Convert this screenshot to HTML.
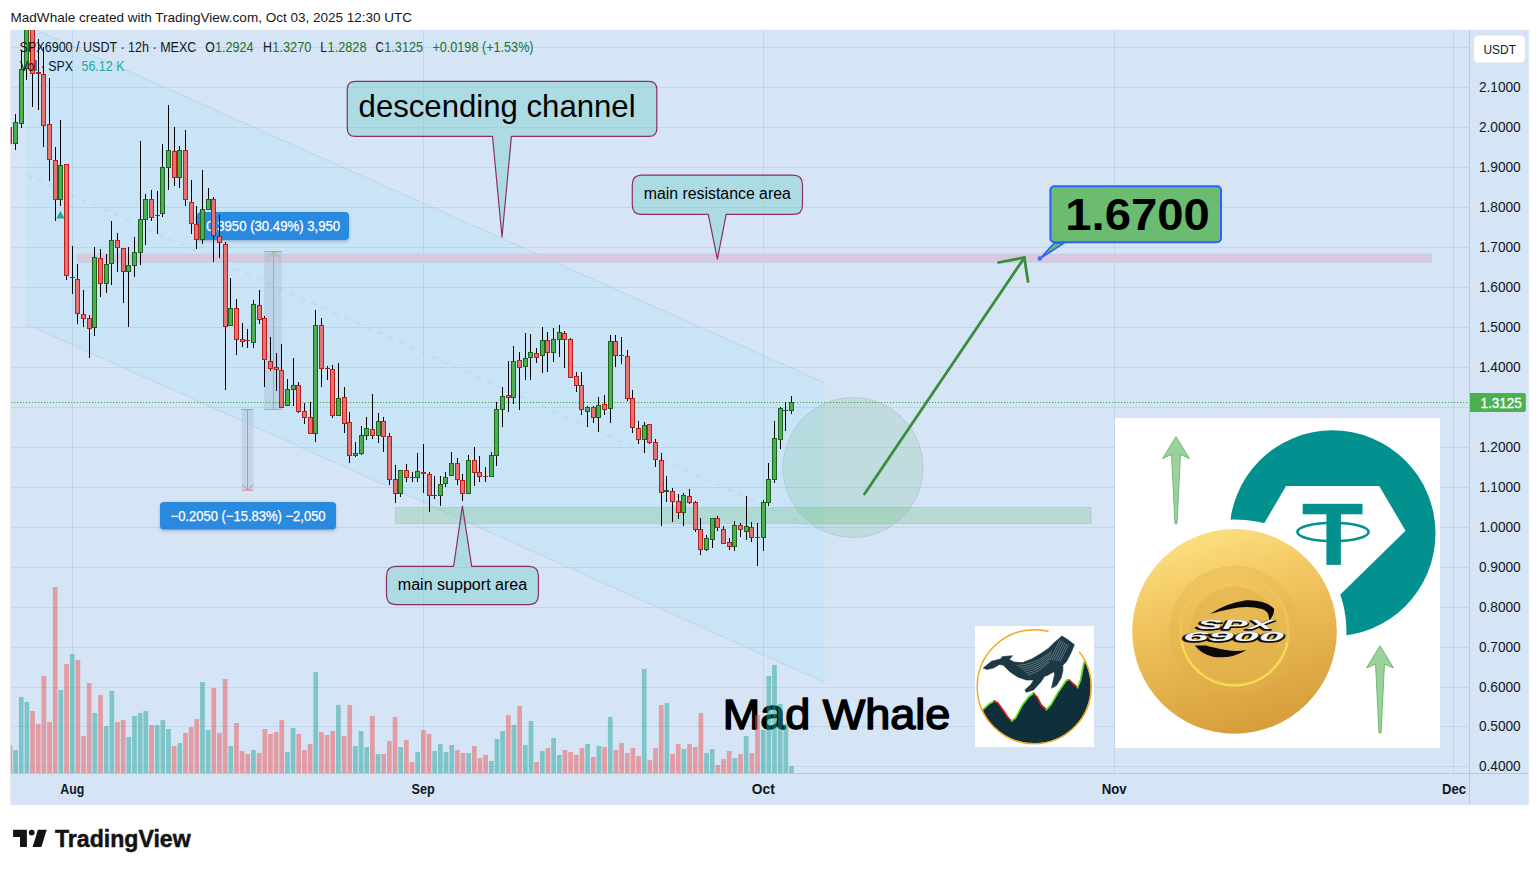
<!DOCTYPE html>
<html><head><meta charset="utf-8"><title>chart</title><style>html,body{margin:0;padding:0;background:#fff;overflow:hidden}svg{display:block}</style></head><body>
<svg width="1540" height="873" viewBox="0 0 1540 873" font-family="Liberation Sans, sans-serif">
<defs>
<clipPath id="cp"><rect x="10.7" y="30" width="1458.8" height="743.3"/></clipPath>
<clipPath id="cpall"><rect x="10.7" y="30" width="1517.8999999999999" height="774.7"/></clipPath>
<linearGradient id="gold" x1="0.3" y1="0" x2="0.6" y2="1"><stop offset="0" stop-color="#fde184"/><stop offset="0.3" stop-color="#f3c963"/><stop offset="0.65" stop-color="#e5b24c"/><stop offset="1" stop-color="#d59d3b"/></linearGradient>
<radialGradient id="gold2" cx="0.5" cy="0.35" r="0.75"><stop offset="0" stop-color="#f3cb62"/><stop offset="1" stop-color="#dca844"/></radialGradient>
<clipPath id="whaleclip"><circle cx="1034.2" cy="686.8" r="56.5"/></clipPath>
<clipPath id="imgclip"><rect x="1115" y="418" width="325" height="330"/></clipPath>
<filter id="sh" x="-10%" y="-20%" width="120%" height="150%"><feDropShadow dx="0" dy="1.5" stdDeviation="1.5" flood-color="#1a3a6a" flood-opacity="0.3"/></filter>
<filter id="blur1"><feGaussianBlur stdDeviation="0.6"/></filter>
</defs>
<rect width="1540" height="873" fill="#fff"/>
<text x="10.6" y="21.7" font-size="13.2" fill="#131722" textLength="401.5" lengthAdjust="spacingAndGlyphs">MadWhale created with TradingView.com, Oct 03, 2025 12:30 UTC</text>
<rect x="10.2" y="29.5" width="1519.1" height="775.9000000000001" fill="#eef1f5"/>
<rect x="10.7" y="30" width="1517.8999999999999" height="774.7" fill="#d5e5f6"/>
<g clip-path="url(#cp)">
<polygon points="26.4,25.5 824.7,382.8 824.7,682.4 26.4,324.2" fill="#c9e4f7" />
<line x1="26.4" y1="25.5" x2="824.7" y2="382.8" stroke="#b4c6dc" stroke-opacity="0.55" stroke-width="1"/>
<line x1="26.4" y1="324.2" x2="824.7" y2="682.4" stroke="#b4c6dc" stroke-opacity="0.55" stroke-width="1"/>
<line x1="26.4" y1="174.9" x2="824.7" y2="532.6" stroke="#b4c6dc" stroke-opacity="0.6" stroke-width="1" stroke-dasharray="6 6"/>
<rect x="10.7" y="766" width="1458.8" height="1" fill="rgb(110,135,170)" fill-opacity="0.155"/>
<rect x="10.7" y="726" width="1458.8" height="1" fill="rgb(110,135,170)" fill-opacity="0.155"/>
<rect x="10.7" y="687" width="1458.8" height="1" fill="rgb(110,135,170)" fill-opacity="0.155"/>
<rect x="10.7" y="647" width="1458.8" height="1" fill="rgb(110,135,170)" fill-opacity="0.155"/>
<rect x="10.7" y="607" width="1458.8" height="1" fill="rgb(110,135,170)" fill-opacity="0.155"/>
<rect x="10.7" y="567" width="1458.8" height="1" fill="rgb(110,135,170)" fill-opacity="0.155"/>
<rect x="10.7" y="527" width="1458.8" height="1" fill="rgb(110,135,170)" fill-opacity="0.155"/>
<rect x="10.7" y="487" width="1458.8" height="1" fill="rgb(110,135,170)" fill-opacity="0.155"/>
<rect x="10.7" y="447" width="1458.8" height="1" fill="rgb(110,135,170)" fill-opacity="0.155"/>
<rect x="10.7" y="407" width="1458.8" height="1" fill="rgb(110,135,170)" fill-opacity="0.155"/>
<rect x="10.7" y="367" width="1458.8" height="1" fill="rgb(110,135,170)" fill-opacity="0.155"/>
<rect x="10.7" y="327" width="1458.8" height="1" fill="rgb(110,135,170)" fill-opacity="0.155"/>
<rect x="10.7" y="287" width="1458.8" height="1" fill="rgb(110,135,170)" fill-opacity="0.155"/>
<rect x="10.7" y="247" width="1458.8" height="1" fill="rgb(110,135,170)" fill-opacity="0.155"/>
<rect x="10.7" y="207" width="1458.8" height="1" fill="rgb(110,135,170)" fill-opacity="0.155"/>
<rect x="10.7" y="167" width="1458.8" height="1" fill="rgb(110,135,170)" fill-opacity="0.155"/>
<rect x="10.7" y="127" width="1458.8" height="1" fill="rgb(110,135,170)" fill-opacity="0.155"/>
<rect x="10.7" y="87" width="1458.8" height="1" fill="rgb(110,135,170)" fill-opacity="0.155"/>
<rect x="10.7" y="47" width="1458.8" height="1" fill="rgb(110,135,170)" fill-opacity="0.155"/>
<rect x="72" y="30" width="1" height="743.3" fill="rgb(110,135,170)" fill-opacity="0.155"/>
<rect x="423" y="30" width="1" height="743.3" fill="rgb(110,135,170)" fill-opacity="0.155"/>
<rect x="763" y="30" width="1" height="743.3" fill="rgb(110,135,170)" fill-opacity="0.155"/>
<rect x="1114" y="30" width="1" height="743.3" fill="rgb(110,135,170)" fill-opacity="0.155"/>
<rect x="1453" y="30" width="1" height="743.3" fill="rgb(110,135,170)" fill-opacity="0.155"/>
<text x="722.8" y="729" font-size="42.3" fill="#000" stroke="#000" stroke-width="1.5" stroke-linejoin="round" textLength="227.6" lengthAdjust="spacingAndGlyphs">Mad Whale</text>
<rect x="7.55" y="745" width="4.7" height="28.3" fill="rgb(239,83,80)" fill-opacity="0.5"/>
<rect x="13.21" y="750" width="4.7" height="23.3" fill="rgb(38,166,154)" fill-opacity="0.5"/>
<rect x="18.88" y="697" width="4.7" height="76.3" fill="rgb(38,166,154)" fill-opacity="0.5"/>
<rect x="24.54" y="702" width="4.7" height="71.3" fill="rgb(38,166,154)" fill-opacity="0.5"/>
<rect x="30.20" y="711" width="4.7" height="62.3" fill="rgb(239,83,80)" fill-opacity="0.5"/>
<rect x="35.87" y="724" width="4.7" height="49.3" fill="rgb(239,83,80)" fill-opacity="0.5"/>
<rect x="41.53" y="676" width="4.7" height="97.3" fill="rgb(239,83,80)" fill-opacity="0.5"/>
<rect x="47.20" y="722" width="4.7" height="51.3" fill="rgb(239,83,80)" fill-opacity="0.5"/>
<rect x="52.86" y="587" width="4.7" height="186.3" fill="rgb(239,83,80)" fill-opacity="0.5"/>
<rect x="58.52" y="690" width="4.7" height="83.3" fill="rgb(38,166,154)" fill-opacity="0.5"/>
<rect x="64.19" y="664" width="4.7" height="109.3" fill="rgb(239,83,80)" fill-opacity="0.5"/>
<rect x="69.85" y="654" width="4.7" height="119.3" fill="rgb(38,166,154)" fill-opacity="0.5"/>
<rect x="75.51" y="660" width="4.7" height="113.3" fill="rgb(239,83,80)" fill-opacity="0.5"/>
<rect x="81.18" y="736" width="4.7" height="37.3" fill="rgb(239,83,80)" fill-opacity="0.5"/>
<rect x="86.84" y="683" width="4.7" height="90.3" fill="rgb(239,83,80)" fill-opacity="0.5"/>
<rect x="92.50" y="713" width="4.7" height="60.3" fill="rgb(38,166,154)" fill-opacity="0.5"/>
<rect x="98.17" y="695" width="4.7" height="78.3" fill="rgb(239,83,80)" fill-opacity="0.5"/>
<rect x="103.83" y="726" width="4.7" height="47.3" fill="rgb(38,166,154)" fill-opacity="0.5"/>
<rect x="109.50" y="691" width="4.7" height="82.3" fill="rgb(38,166,154)" fill-opacity="0.5"/>
<rect x="115.16" y="722" width="4.7" height="51.3" fill="rgb(239,83,80)" fill-opacity="0.5"/>
<rect x="120.82" y="720" width="4.7" height="53.3" fill="rgb(239,83,80)" fill-opacity="0.5"/>
<rect x="126.49" y="737" width="4.7" height="36.3" fill="rgb(38,166,154)" fill-opacity="0.5"/>
<rect x="132.15" y="716" width="4.7" height="57.3" fill="rgb(38,166,154)" fill-opacity="0.5"/>
<rect x="137.81" y="713" width="4.7" height="60.3" fill="rgb(38,166,154)" fill-opacity="0.5"/>
<rect x="143.48" y="711" width="4.7" height="62.3" fill="rgb(38,166,154)" fill-opacity="0.5"/>
<rect x="149.14" y="725" width="4.7" height="48.3" fill="rgb(239,83,80)" fill-opacity="0.5"/>
<rect x="154.81" y="725" width="4.7" height="48.3" fill="rgb(38,166,154)" fill-opacity="0.5"/>
<rect x="160.47" y="720" width="4.7" height="53.3" fill="rgb(38,166,154)" fill-opacity="0.5"/>
<rect x="166.13" y="729" width="4.7" height="44.3" fill="rgb(38,166,154)" fill-opacity="0.5"/>
<rect x="171.80" y="746" width="4.7" height="27.3" fill="rgb(239,83,80)" fill-opacity="0.5"/>
<rect x="177.46" y="743" width="4.7" height="30.3" fill="rgb(38,166,154)" fill-opacity="0.5"/>
<rect x="183.12" y="733" width="4.7" height="40.3" fill="rgb(239,83,80)" fill-opacity="0.5"/>
<rect x="188.79" y="727" width="4.7" height="46.3" fill="rgb(239,83,80)" fill-opacity="0.5"/>
<rect x="194.45" y="719" width="4.7" height="54.3" fill="rgb(239,83,80)" fill-opacity="0.5"/>
<rect x="200.11" y="682" width="4.7" height="91.3" fill="rgb(38,166,154)" fill-opacity="0.5"/>
<rect x="205.78" y="730" width="4.7" height="43.3" fill="rgb(38,166,154)" fill-opacity="0.5"/>
<rect x="211.44" y="688" width="4.7" height="85.3" fill="rgb(239,83,80)" fill-opacity="0.5"/>
<rect x="217.11" y="733" width="4.7" height="40.3" fill="rgb(239,83,80)" fill-opacity="0.5"/>
<rect x="222.77" y="679" width="4.7" height="94.3" fill="rgb(239,83,80)" fill-opacity="0.5"/>
<rect x="228.43" y="746" width="4.7" height="27.3" fill="rgb(38,166,154)" fill-opacity="0.5"/>
<rect x="234.10" y="723" width="4.7" height="50.3" fill="rgb(239,83,80)" fill-opacity="0.5"/>
<rect x="239.76" y="751" width="4.7" height="22.3" fill="rgb(239,83,80)" fill-opacity="0.5"/>
<rect x="245.42" y="754" width="4.7" height="19.3" fill="rgb(239,83,80)" fill-opacity="0.5"/>
<rect x="251.09" y="750" width="4.7" height="23.3" fill="rgb(38,166,154)" fill-opacity="0.5"/>
<rect x="256.75" y="753" width="4.7" height="20.3" fill="rgb(239,83,80)" fill-opacity="0.5"/>
<rect x="262.41" y="729" width="4.7" height="44.3" fill="rgb(239,83,80)" fill-opacity="0.5"/>
<rect x="268.08" y="734" width="4.7" height="39.3" fill="rgb(239,83,80)" fill-opacity="0.5"/>
<rect x="273.74" y="732" width="4.7" height="41.3" fill="rgb(239,83,80)" fill-opacity="0.5"/>
<rect x="279.41" y="720" width="4.7" height="53.3" fill="rgb(239,83,80)" fill-opacity="0.5"/>
<rect x="285.07" y="752" width="4.7" height="21.3" fill="rgb(38,166,154)" fill-opacity="0.5"/>
<rect x="290.73" y="728" width="4.7" height="45.3" fill="rgb(38,166,154)" fill-opacity="0.5"/>
<rect x="296.40" y="734" width="4.7" height="39.3" fill="rgb(239,83,80)" fill-opacity="0.5"/>
<rect x="302.06" y="750" width="4.7" height="23.3" fill="rgb(239,83,80)" fill-opacity="0.5"/>
<rect x="307.72" y="744" width="4.7" height="29.3" fill="rgb(239,83,80)" fill-opacity="0.5"/>
<rect x="313.39" y="672" width="4.7" height="101.3" fill="rgb(38,166,154)" fill-opacity="0.5"/>
<rect x="319.05" y="732" width="4.7" height="41.3" fill="rgb(239,83,80)" fill-opacity="0.5"/>
<rect x="324.72" y="735" width="4.7" height="38.3" fill="rgb(239,83,80)" fill-opacity="0.5"/>
<rect x="330.38" y="731" width="4.7" height="42.3" fill="rgb(239,83,80)" fill-opacity="0.5"/>
<rect x="336.04" y="705" width="4.7" height="68.3" fill="rgb(38,166,154)" fill-opacity="0.5"/>
<rect x="341.71" y="736" width="4.7" height="37.3" fill="rgb(239,83,80)" fill-opacity="0.5"/>
<rect x="347.37" y="705" width="4.7" height="68.3" fill="rgb(239,83,80)" fill-opacity="0.5"/>
<rect x="353.03" y="746" width="4.7" height="27.3" fill="rgb(38,166,154)" fill-opacity="0.5"/>
<rect x="358.70" y="731" width="4.7" height="42.3" fill="rgb(38,166,154)" fill-opacity="0.5"/>
<rect x="364.36" y="747" width="4.7" height="26.3" fill="rgb(38,166,154)" fill-opacity="0.5"/>
<rect x="370.02" y="716" width="4.7" height="57.3" fill="rgb(239,83,80)" fill-opacity="0.5"/>
<rect x="375.69" y="754" width="4.7" height="19.3" fill="rgb(38,166,154)" fill-opacity="0.5"/>
<rect x="381.35" y="754" width="4.7" height="19.3" fill="rgb(239,83,80)" fill-opacity="0.5"/>
<rect x="387.02" y="741" width="4.7" height="32.3" fill="rgb(239,83,80)" fill-opacity="0.5"/>
<rect x="392.68" y="717" width="4.7" height="56.3" fill="rgb(239,83,80)" fill-opacity="0.5"/>
<rect x="398.34" y="747" width="4.7" height="26.3" fill="rgb(38,166,154)" fill-opacity="0.5"/>
<rect x="404.01" y="740" width="4.7" height="33.3" fill="rgb(239,83,80)" fill-opacity="0.5"/>
<rect x="409.67" y="762" width="4.7" height="11.3" fill="rgb(239,83,80)" fill-opacity="0.5"/>
<rect x="415.33" y="752" width="4.7" height="21.3" fill="rgb(38,166,154)" fill-opacity="0.5"/>
<rect x="421.00" y="730" width="4.7" height="43.3" fill="rgb(239,83,80)" fill-opacity="0.5"/>
<rect x="426.66" y="734" width="4.7" height="39.3" fill="rgb(239,83,80)" fill-opacity="0.5"/>
<rect x="432.32" y="751" width="4.7" height="22.3" fill="rgb(38,166,154)" fill-opacity="0.5"/>
<rect x="437.99" y="744" width="4.7" height="29.3" fill="rgb(38,166,154)" fill-opacity="0.5"/>
<rect x="443.65" y="752" width="4.7" height="21.3" fill="rgb(38,166,154)" fill-opacity="0.5"/>
<rect x="449.32" y="745" width="4.7" height="28.3" fill="rgb(38,166,154)" fill-opacity="0.5"/>
<rect x="454.98" y="750" width="4.7" height="23.3" fill="rgb(239,83,80)" fill-opacity="0.5"/>
<rect x="460.64" y="753" width="4.7" height="20.3" fill="rgb(239,83,80)" fill-opacity="0.5"/>
<rect x="466.31" y="753" width="4.7" height="20.3" fill="rgb(38,166,154)" fill-opacity="0.5"/>
<rect x="471.97" y="746" width="4.7" height="27.3" fill="rgb(239,83,80)" fill-opacity="0.5"/>
<rect x="477.63" y="758" width="4.7" height="15.3" fill="rgb(239,83,80)" fill-opacity="0.5"/>
<rect x="483.30" y="755" width="4.7" height="18.3" fill="rgb(239,83,80)" fill-opacity="0.5"/>
<rect x="488.96" y="761" width="4.7" height="12.3" fill="rgb(38,166,154)" fill-opacity="0.5"/>
<rect x="494.63" y="739" width="4.7" height="34.3" fill="rgb(38,166,154)" fill-opacity="0.5"/>
<rect x="500.29" y="731" width="4.7" height="42.3" fill="rgb(38,166,154)" fill-opacity="0.5"/>
<rect x="505.95" y="715" width="4.7" height="58.3" fill="rgb(239,83,80)" fill-opacity="0.5"/>
<rect x="511.62" y="725" width="4.7" height="48.3" fill="rgb(38,166,154)" fill-opacity="0.5"/>
<rect x="517.28" y="706" width="4.7" height="67.3" fill="rgb(239,83,80)" fill-opacity="0.5"/>
<rect x="522.94" y="745" width="4.7" height="28.3" fill="rgb(38,166,154)" fill-opacity="0.5"/>
<rect x="528.61" y="721" width="4.7" height="52.3" fill="rgb(38,166,154)" fill-opacity="0.5"/>
<rect x="534.27" y="762" width="4.7" height="11.3" fill="rgb(239,83,80)" fill-opacity="0.5"/>
<rect x="539.93" y="751" width="4.7" height="22.3" fill="rgb(38,166,154)" fill-opacity="0.5"/>
<rect x="545.60" y="748" width="4.7" height="25.3" fill="rgb(239,83,80)" fill-opacity="0.5"/>
<rect x="551.26" y="738" width="4.7" height="35.3" fill="rgb(38,166,154)" fill-opacity="0.5"/>
<rect x="556.93" y="755" width="4.7" height="18.3" fill="rgb(38,166,154)" fill-opacity="0.5"/>
<rect x="562.59" y="750" width="4.7" height="23.3" fill="rgb(239,83,80)" fill-opacity="0.5"/>
<rect x="568.25" y="752" width="4.7" height="21.3" fill="rgb(239,83,80)" fill-opacity="0.5"/>
<rect x="573.92" y="755" width="4.7" height="18.3" fill="rgb(239,83,80)" fill-opacity="0.5"/>
<rect x="579.58" y="748" width="4.7" height="25.3" fill="rgb(239,83,80)" fill-opacity="0.5"/>
<rect x="585.24" y="744" width="4.7" height="29.3" fill="rgb(38,166,154)" fill-opacity="0.5"/>
<rect x="590.91" y="757" width="4.7" height="16.3" fill="rgb(239,83,80)" fill-opacity="0.5"/>
<rect x="596.57" y="746" width="4.7" height="27.3" fill="rgb(38,166,154)" fill-opacity="0.5"/>
<rect x="602.23" y="747" width="4.7" height="26.3" fill="rgb(239,83,80)" fill-opacity="0.5"/>
<rect x="607.90" y="717" width="4.7" height="56.3" fill="rgb(38,166,154)" fill-opacity="0.5"/>
<rect x="613.56" y="750" width="4.7" height="23.3" fill="rgb(239,83,80)" fill-opacity="0.5"/>
<rect x="619.23" y="743" width="4.7" height="30.3" fill="rgb(239,83,80)" fill-opacity="0.5"/>
<rect x="624.89" y="753" width="4.7" height="20.3" fill="rgb(239,83,80)" fill-opacity="0.5"/>
<rect x="630.55" y="748" width="4.7" height="25.3" fill="rgb(239,83,80)" fill-opacity="0.5"/>
<rect x="636.22" y="756" width="4.7" height="17.3" fill="rgb(239,83,80)" fill-opacity="0.5"/>
<rect x="641.88" y="669" width="4.7" height="104.3" fill="rgb(38,166,154)" fill-opacity="0.5"/>
<rect x="647.54" y="760" width="4.7" height="13.3" fill="rgb(239,83,80)" fill-opacity="0.5"/>
<rect x="653.21" y="748" width="4.7" height="25.3" fill="rgb(239,83,80)" fill-opacity="0.5"/>
<rect x="658.87" y="705" width="4.7" height="68.3" fill="rgb(239,83,80)" fill-opacity="0.5"/>
<rect x="664.54" y="703" width="4.7" height="70.3" fill="rgb(38,166,154)" fill-opacity="0.5"/>
<rect x="670.20" y="754" width="4.7" height="19.3" fill="rgb(239,83,80)" fill-opacity="0.5"/>
<rect x="675.86" y="744" width="4.7" height="29.3" fill="rgb(239,83,80)" fill-opacity="0.5"/>
<rect x="681.53" y="749" width="4.7" height="24.3" fill="rgb(38,166,154)" fill-opacity="0.5"/>
<rect x="687.19" y="744" width="4.7" height="29.3" fill="rgb(239,83,80)" fill-opacity="0.5"/>
<rect x="692.85" y="747" width="4.7" height="26.3" fill="rgb(239,83,80)" fill-opacity="0.5"/>
<rect x="698.52" y="713" width="4.7" height="60.3" fill="rgb(239,83,80)" fill-opacity="0.5"/>
<rect x="704.18" y="753" width="4.7" height="20.3" fill="rgb(38,166,154)" fill-opacity="0.5"/>
<rect x="709.84" y="749" width="4.7" height="24.3" fill="rgb(38,166,154)" fill-opacity="0.5"/>
<rect x="715.51" y="765" width="4.7" height="8.3" fill="rgb(239,83,80)" fill-opacity="0.5"/>
<rect x="721.17" y="759" width="4.7" height="14.3" fill="rgb(239,83,80)" fill-opacity="0.5"/>
<rect x="726.84" y="751" width="4.7" height="22.3" fill="rgb(239,83,80)" fill-opacity="0.5"/>
<rect x="732.50" y="758" width="4.7" height="15.3" fill="rgb(38,166,154)" fill-opacity="0.5"/>
<rect x="738.16" y="754" width="4.7" height="19.3" fill="rgb(239,83,80)" fill-opacity="0.5"/>
<rect x="743.83" y="736" width="4.7" height="37.3" fill="rgb(38,166,154)" fill-opacity="0.5"/>
<rect x="749.49" y="753" width="4.7" height="20.3" fill="rgb(239,83,80)" fill-opacity="0.5"/>
<rect x="755.15" y="715" width="4.7" height="58.3" fill="rgb(239,83,80)" fill-opacity="0.5"/>
<rect x="760.82" y="730" width="4.7" height="43.3" fill="rgb(38,166,154)" fill-opacity="0.5"/>
<rect x="766.48" y="676" width="4.7" height="97.3" fill="rgb(38,166,154)" fill-opacity="0.5"/>
<rect x="772.14" y="665" width="4.7" height="108.3" fill="rgb(38,166,154)" fill-opacity="0.5"/>
<rect x="777.81" y="704" width="4.7" height="69.3" fill="rgb(38,166,154)" fill-opacity="0.5"/>
<rect x="783.47" y="724" width="4.7" height="49.3" fill="rgb(38,166,154)" fill-opacity="0.5"/>
<rect x="789.14" y="766" width="4.7" height="7.3" fill="rgb(38,166,154)" fill-opacity="0.5"/>
<rect x="77.6" y="254" width="1354" height="8.4" fill="#d8c9de" stroke="#c3cfe6" stroke-width="0.8"/>
<rect x="395.3" y="507.6" width="695.7" height="15.8" fill="rgb(76,175,80)" fill-opacity="0.2" stroke="#9fb4c8" stroke-opacity="0.6" stroke-width="0.8"/>
<rect x="264.2" y="251.3" width="17.6" height="158.2" fill="#9fb3cc" fill-opacity="0.32"/>
<g stroke="#7fc784" stroke-width="1" fill="none"><line x1="273.5" y1="251.3" x2="273.5" y2="409.5"/><line x1="264.2" y1="251.5" x2="281.8" y2="251.5"/><line x1="264.2" y1="409.5" x2="281.8" y2="409.5"/><polyline points="267.5,257 273.5,251.5 279.5,257"/></g>
<rect x="241.8" y="409.5" width="11.6" height="80.5" fill="#9fb3cc" fill-opacity="0.32"/>
<g stroke="#f0808a" stroke-width="1" fill="none"><line x1="247.5" y1="409.5" x2="247.5" y2="490"/><line x1="241" y1="409.5" x2="253.6" y2="409.5"/><line x1="241.8" y1="490.2" x2="253.4" y2="490.2"/><polyline points="241.8,484.5 247.5,490 253.4,484.5"/></g>
<g filter="url(#sh)"><rect x="197" y="212" width="152" height="28" rx="4" fill="#2b8ae0"/><rect x="160" y="502" width="176" height="27.6" rx="4" fill="#2b8ae0"/></g>
<text x="206.2" y="231" font-size="13.8" fill="#fff" textLength="134" lengthAdjust="spacingAndGlyphs" stroke="#fff" stroke-width="0.25">0.3950 (30.49%) 3,950</text>
<text x="170.6" y="521" font-size="13.8" fill="#fff" textLength="155" lengthAdjust="spacingAndGlyphs" stroke="#fff" stroke-width="0.25">−0.2050 (−15.83%) −2,050</text>
<line x1="11" y1="402.5" x2="1469.5" y2="402.5" stroke="#43a047" stroke-width="1.2" stroke-dasharray="1.2 1.8"/>
<rect x="9" y="127" width="1" height="17" fill="#000"/>
<rect x="7" y="127" width="5" height="17" fill="#bf1c1c"/><rect x="8" y="128" width="3" height="15" fill="#e67272"/>
<rect x="15" y="114" width="1" height="36" fill="#000"/>
<rect x="13" y="122" width="5" height="22" fill="#1b6420"/><rect x="14" y="123" width="3" height="20" fill="#4caf50"/>
<rect x="21" y="50" width="1" height="78" fill="#000"/>
<rect x="19" y="69" width="5" height="55" fill="#1b6420"/><rect x="20" y="70" width="3" height="53" fill="#4caf50"/>
<rect x="26" y="20" width="1" height="60" fill="#000"/>
<rect x="24" y="20" width="5" height="49" fill="#1b6420"/><rect x="25" y="21" width="3" height="47" fill="#4caf50"/>
<rect x="32" y="20" width="1" height="87" fill="#000"/>
<rect x="30" y="20" width="5" height="54" fill="#bf1c1c"/><rect x="31" y="21" width="3" height="52" fill="#e67272"/>
<rect x="38" y="39" width="1" height="71" fill="#000"/>
<rect x="36" y="72" width="5" height="2" fill="#bf1c1c"/>
<rect x="43" y="47" width="1" height="100" fill="#000"/>
<rect x="41" y="74" width="5" height="52" fill="#bf1c1c"/><rect x="42" y="75" width="3" height="50" fill="#e67272"/>
<rect x="49" y="78" width="1" height="103" fill="#000"/>
<rect x="47" y="124" width="5" height="36" fill="#bf1c1c"/><rect x="48" y="125" width="3" height="34" fill="#e67272"/>
<rect x="55" y="147" width="1" height="74" fill="#000"/>
<rect x="53" y="160" width="5" height="40" fill="#bf1c1c"/><rect x="54" y="161" width="3" height="38" fill="#e67272"/>
<rect x="60" y="120" width="1" height="86" fill="#000"/>
<rect x="58" y="165" width="5" height="35" fill="#1b6420"/><rect x="59" y="166" width="3" height="33" fill="#4caf50"/>
<rect x="66" y="164" width="1" height="116" fill="#000"/>
<rect x="64" y="164" width="5" height="112" fill="#bf1c1c"/><rect x="65" y="165" width="3" height="110" fill="#e67272"/>
<rect x="72" y="246" width="1" height="48" fill="#000"/>
<rect x="70" y="277" width="5" height="1" fill="#1b6420"/>
<rect x="77" y="264" width="1" height="60" fill="#000"/>
<rect x="75" y="279" width="5" height="35" fill="#bf1c1c"/><rect x="76" y="280" width="3" height="33" fill="#e67272"/>
<rect x="83" y="290" width="1" height="37" fill="#000"/>
<rect x="81" y="314" width="5" height="5" fill="#bf1c1c"/><rect x="82" y="315" width="3" height="3" fill="#e67272"/>
<rect x="89" y="315" width="1" height="43" fill="#000"/>
<rect x="87" y="318" width="5" height="11" fill="#bf1c1c"/><rect x="88" y="319" width="3" height="9" fill="#e67272"/>
<rect x="94" y="247" width="1" height="89" fill="#000"/>
<rect x="92" y="257" width="5" height="71" fill="#1b6420"/><rect x="93" y="258" width="3" height="69" fill="#4caf50"/>
<rect x="100" y="249" width="1" height="48" fill="#000"/>
<rect x="98" y="258" width="5" height="26" fill="#bf1c1c"/><rect x="99" y="259" width="3" height="24" fill="#e67272"/>
<rect x="106" y="254" width="1" height="39" fill="#000"/>
<rect x="104" y="264" width="5" height="20" fill="#1b6420"/><rect x="105" y="265" width="3" height="18" fill="#4caf50"/>
<rect x="111" y="221" width="1" height="64" fill="#000"/>
<rect x="109" y="240" width="5" height="24" fill="#1b6420"/><rect x="110" y="241" width="3" height="22" fill="#4caf50"/>
<rect x="117" y="233" width="1" height="39" fill="#000"/>
<rect x="115" y="240" width="5" height="8" fill="#bf1c1c"/><rect x="116" y="241" width="3" height="6" fill="#e67272"/>
<rect x="123" y="248" width="1" height="55" fill="#000"/>
<rect x="121" y="248" width="5" height="24" fill="#bf1c1c"/><rect x="122" y="249" width="3" height="22" fill="#e67272"/>
<rect x="128" y="247" width="1" height="80" fill="#000"/>
<rect x="126" y="265" width="5" height="7" fill="#1b6420"/><rect x="127" y="266" width="3" height="5" fill="#4caf50"/>
<rect x="134" y="237" width="1" height="40" fill="#000"/>
<rect x="132" y="252" width="5" height="14" fill="#1b6420"/><rect x="133" y="253" width="3" height="12" fill="#4caf50"/>
<rect x="140" y="141" width="1" height="124" fill="#000"/>
<rect x="138" y="219" width="5" height="34" fill="#1b6420"/><rect x="139" y="220" width="3" height="32" fill="#4caf50"/>
<rect x="145" y="194" width="1" height="51" fill="#000"/>
<rect x="143" y="199" width="5" height="21" fill="#1b6420"/><rect x="144" y="200" width="3" height="19" fill="#4caf50"/>
<rect x="151" y="190" width="1" height="31" fill="#000"/>
<rect x="149" y="199" width="5" height="19" fill="#bf1c1c"/><rect x="150" y="200" width="3" height="17" fill="#e67272"/>
<rect x="157" y="191" width="1" height="43" fill="#000"/>
<rect x="155" y="215" width="5" height="1" fill="#1b6420"/>
<rect x="162" y="144" width="1" height="73" fill="#000"/>
<rect x="160" y="167" width="5" height="47" fill="#1b6420"/><rect x="161" y="168" width="3" height="45" fill="#4caf50"/>
<rect x="168" y="105" width="1" height="85" fill="#000"/>
<rect x="166" y="150" width="5" height="18" fill="#1b6420"/><rect x="167" y="151" width="3" height="16" fill="#4caf50"/>
<rect x="174" y="127" width="1" height="59" fill="#000"/>
<rect x="172" y="151" width="5" height="27" fill="#bf1c1c"/><rect x="173" y="152" width="3" height="25" fill="#e67272"/>
<rect x="179" y="146" width="1" height="42" fill="#000"/>
<rect x="177" y="150" width="5" height="28" fill="#1b6420"/><rect x="178" y="151" width="3" height="26" fill="#4caf50"/>
<rect x="185" y="130" width="1" height="76" fill="#000"/>
<rect x="183" y="150" width="5" height="50" fill="#bf1c1c"/><rect x="184" y="151" width="3" height="48" fill="#e67272"/>
<rect x="191" y="180" width="1" height="54" fill="#000"/>
<rect x="189" y="202" width="5" height="22" fill="#bf1c1c"/><rect x="190" y="203" width="3" height="20" fill="#e67272"/>
<rect x="196" y="206" width="1" height="43" fill="#000"/>
<rect x="194" y="224" width="5" height="16" fill="#bf1c1c"/><rect x="195" y="225" width="3" height="14" fill="#e67272"/>
<rect x="202" y="170" width="1" height="74" fill="#000"/>
<rect x="200" y="209" width="5" height="31" fill="#1b6420"/><rect x="201" y="210" width="3" height="29" fill="#4caf50"/>
<rect x="208" y="188" width="1" height="22" fill="#000"/>
<rect x="206" y="199" width="5" height="11" fill="#1b6420"/><rect x="207" y="200" width="3" height="9" fill="#4caf50"/>
<rect x="213" y="197" width="1" height="65" fill="#000"/>
<rect x="211" y="199" width="5" height="37" fill="#bf1c1c"/><rect x="212" y="200" width="3" height="35" fill="#e67272"/>
<rect x="219" y="215" width="1" height="43" fill="#000"/>
<rect x="217" y="236" width="5" height="7" fill="#bf1c1c"/><rect x="218" y="237" width="3" height="5" fill="#e67272"/>
<rect x="225" y="242" width="1" height="148" fill="#000"/>
<rect x="223" y="244" width="5" height="83" fill="#bf1c1c"/><rect x="224" y="245" width="3" height="81" fill="#e67272"/>
<rect x="230" y="278" width="1" height="48" fill="#000"/>
<rect x="228" y="308" width="5" height="18" fill="#1b6420"/><rect x="229" y="309" width="3" height="16" fill="#4caf50"/>
<rect x="236" y="299" width="1" height="56" fill="#000"/>
<rect x="234" y="308" width="5" height="32" fill="#bf1c1c"/><rect x="235" y="309" width="3" height="30" fill="#e67272"/>
<rect x="242" y="323" width="1" height="24" fill="#000"/>
<rect x="240" y="339" width="5" height="3" fill="#bf1c1c"/><rect x="241" y="340" width="3" height="1" fill="#e67272"/>
<rect x="247" y="329" width="1" height="19" fill="#000"/>
<rect x="245" y="340" width="5" height="1" fill="#bf1c1c"/>
<rect x="253" y="300" width="1" height="48" fill="#000"/>
<rect x="251" y="304" width="5" height="39" fill="#1b6420"/><rect x="252" y="305" width="3" height="37" fill="#4caf50"/>
<rect x="259" y="290" width="1" height="34" fill="#000"/>
<rect x="257" y="305" width="5" height="15" fill="#bf1c1c"/><rect x="258" y="306" width="3" height="13" fill="#e67272"/>
<rect x="264" y="316" width="1" height="71" fill="#000"/>
<rect x="262" y="318" width="5" height="42" fill="#bf1c1c"/><rect x="263" y="319" width="3" height="40" fill="#e67272"/>
<rect x="270" y="337" width="1" height="34" fill="#000"/>
<rect x="268" y="361" width="5" height="8" fill="#bf1c1c"/><rect x="269" y="362" width="3" height="6" fill="#e67272"/>
<rect x="276" y="353" width="1" height="38" fill="#000"/>
<rect x="274" y="367" width="5" height="3" fill="#bf1c1c"/><rect x="275" y="368" width="3" height="1" fill="#e67272"/>
<rect x="281" y="344" width="1" height="64" fill="#000"/>
<rect x="279" y="370" width="5" height="38" fill="#bf1c1c"/><rect x="280" y="371" width="3" height="36" fill="#e67272"/>
<rect x="287" y="379" width="1" height="27" fill="#000"/>
<rect x="285" y="389" width="5" height="17" fill="#1b6420"/><rect x="286" y="390" width="3" height="15" fill="#4caf50"/>
<rect x="293" y="358" width="1" height="48" fill="#000"/>
<rect x="291" y="385" width="5" height="5" fill="#1b6420"/><rect x="292" y="386" width="3" height="3" fill="#4caf50"/>
<rect x="298" y="382" width="1" height="31" fill="#000"/>
<rect x="296" y="385" width="5" height="27" fill="#bf1c1c"/><rect x="297" y="386" width="3" height="25" fill="#e67272"/>
<rect x="304" y="403" width="1" height="21" fill="#000"/>
<rect x="302" y="411" width="5" height="7" fill="#bf1c1c"/><rect x="303" y="412" width="3" height="5" fill="#e67272"/>
<rect x="310" y="402" width="1" height="32" fill="#000"/>
<rect x="308" y="417" width="5" height="17" fill="#bf1c1c"/><rect x="309" y="418" width="3" height="15" fill="#e67272"/>
<rect x="315" y="310" width="1" height="132" fill="#000"/>
<rect x="313" y="325" width="5" height="109" fill="#1b6420"/><rect x="314" y="326" width="3" height="107" fill="#4caf50"/>
<rect x="321" y="318" width="1" height="69" fill="#000"/>
<rect x="319" y="325" width="5" height="44" fill="#bf1c1c"/><rect x="320" y="326" width="3" height="42" fill="#e67272"/>
<rect x="327" y="366" width="1" height="14" fill="#000"/>
<rect x="325" y="368" width="5" height="1" fill="#bf1c1c"/>
<rect x="332" y="365" width="1" height="53" fill="#000"/>
<rect x="330" y="369" width="5" height="47" fill="#bf1c1c"/><rect x="331" y="370" width="3" height="45" fill="#e67272"/>
<rect x="338" y="363" width="1" height="53" fill="#000"/>
<rect x="336" y="398" width="5" height="18" fill="#1b6420"/><rect x="337" y="399" width="3" height="16" fill="#4caf50"/>
<rect x="344" y="387" width="1" height="46" fill="#000"/>
<rect x="342" y="397" width="5" height="27" fill="#bf1c1c"/><rect x="343" y="398" width="3" height="25" fill="#e67272"/>
<rect x="349" y="412" width="1" height="51" fill="#000"/>
<rect x="347" y="422" width="5" height="34" fill="#bf1c1c"/><rect x="348" y="423" width="3" height="32" fill="#e67272"/>
<rect x="355" y="442" width="1" height="15" fill="#000"/>
<rect x="353" y="453" width="5" height="3" fill="#1b6420"/><rect x="354" y="454" width="3" height="1" fill="#4caf50"/>
<rect x="361" y="426" width="1" height="29" fill="#000"/>
<rect x="359" y="435" width="5" height="19" fill="#1b6420"/><rect x="360" y="436" width="3" height="17" fill="#4caf50"/>
<rect x="366" y="417" width="1" height="23" fill="#000"/>
<rect x="364" y="428" width="5" height="8" fill="#1b6420"/><rect x="365" y="429" width="3" height="6" fill="#4caf50"/>
<rect x="372" y="394" width="1" height="45" fill="#000"/>
<rect x="370" y="429" width="5" height="7" fill="#bf1c1c"/><rect x="371" y="430" width="3" height="5" fill="#e67272"/>
<rect x="378" y="413" width="1" height="30" fill="#000"/>
<rect x="376" y="421" width="5" height="15" fill="#1b6420"/><rect x="377" y="422" width="3" height="13" fill="#4caf50"/>
<rect x="383" y="417" width="1" height="35" fill="#000"/>
<rect x="381" y="421" width="5" height="16" fill="#bf1c1c"/><rect x="382" y="422" width="3" height="14" fill="#e67272"/>
<rect x="389" y="433" width="1" height="52" fill="#000"/>
<rect x="387" y="436" width="5" height="44" fill="#bf1c1c"/><rect x="388" y="437" width="3" height="42" fill="#e67272"/>
<rect x="395" y="465" width="1" height="38" fill="#000"/>
<rect x="393" y="479" width="5" height="15" fill="#bf1c1c"/><rect x="394" y="480" width="3" height="13" fill="#e67272"/>
<rect x="400" y="470" width="1" height="27" fill="#000"/>
<rect x="398" y="470" width="5" height="24" fill="#1b6420"/><rect x="399" y="471" width="3" height="22" fill="#4caf50"/>
<rect x="406" y="464" width="1" height="18" fill="#000"/>
<rect x="404" y="470" width="5" height="8" fill="#bf1c1c"/><rect x="405" y="471" width="3" height="6" fill="#e67272"/>
<rect x="412" y="472" width="1" height="10" fill="#000"/>
<rect x="410" y="477" width="5" height="1" fill="#bf1c1c"/>
<rect x="417" y="453" width="1" height="29" fill="#000"/>
<rect x="415" y="471" width="5" height="7" fill="#1b6420"/><rect x="416" y="472" width="3" height="5" fill="#4caf50"/>
<rect x="423" y="444" width="1" height="49" fill="#000"/>
<rect x="421" y="472" width="5" height="2" fill="#bf1c1c"/>
<rect x="429" y="472" width="1" height="40" fill="#000"/>
<rect x="427" y="474" width="5" height="22" fill="#bf1c1c"/><rect x="428" y="475" width="3" height="20" fill="#e67272"/>
<rect x="434" y="476" width="1" height="23" fill="#000"/>
<rect x="432" y="495" width="5" height="1" fill="#1b6420"/>
<rect x="440" y="476" width="1" height="30" fill="#000"/>
<rect x="438" y="484" width="5" height="12" fill="#1b6420"/><rect x="439" y="485" width="3" height="10" fill="#4caf50"/>
<rect x="445" y="472" width="1" height="15" fill="#000"/>
<rect x="443" y="477" width="5" height="7" fill="#1b6420"/><rect x="444" y="478" width="3" height="5" fill="#4caf50"/>
<rect x="451" y="452" width="1" height="24" fill="#000"/>
<rect x="449" y="463" width="5" height="13" fill="#1b6420"/><rect x="450" y="464" width="3" height="11" fill="#4caf50"/>
<rect x="457" y="458" width="1" height="27" fill="#000"/>
<rect x="455" y="463" width="5" height="17" fill="#bf1c1c"/><rect x="456" y="464" width="3" height="15" fill="#e67272"/>
<rect x="462" y="474" width="1" height="27" fill="#000"/>
<rect x="460" y="480" width="5" height="14" fill="#bf1c1c"/><rect x="461" y="481" width="3" height="12" fill="#e67272"/>
<rect x="468" y="455" width="1" height="39" fill="#000"/>
<rect x="466" y="460" width="5" height="34" fill="#1b6420"/><rect x="467" y="461" width="3" height="32" fill="#4caf50"/>
<rect x="474" y="447" width="1" height="39" fill="#000"/>
<rect x="472" y="460" width="5" height="13" fill="#bf1c1c"/><rect x="473" y="461" width="3" height="11" fill="#e67272"/>
<rect x="479" y="456" width="1" height="26" fill="#000"/>
<rect x="477" y="472" width="5" height="5" fill="#bf1c1c"/><rect x="478" y="473" width="3" height="3" fill="#e67272"/>
<rect x="485" y="467" width="1" height="15" fill="#000"/>
<rect x="483" y="476" width="5" height="1" fill="#bf1c1c"/>
<rect x="491" y="452" width="1" height="25" fill="#000"/>
<rect x="489" y="455" width="5" height="22" fill="#1b6420"/><rect x="490" y="456" width="3" height="20" fill="#4caf50"/>
<rect x="496" y="402" width="1" height="64" fill="#000"/>
<rect x="494" y="409" width="5" height="47" fill="#1b6420"/><rect x="495" y="410" width="3" height="45" fill="#4caf50"/>
<rect x="502" y="387" width="1" height="40" fill="#000"/>
<rect x="500" y="396" width="5" height="14" fill="#1b6420"/><rect x="501" y="397" width="3" height="12" fill="#4caf50"/>
<rect x="508" y="361" width="1" height="51" fill="#000"/>
<rect x="506" y="395" width="5" height="3" fill="#bf1c1c"/><rect x="507" y="396" width="3" height="1" fill="#e67272"/>
<rect x="513" y="346" width="1" height="58" fill="#000"/>
<rect x="511" y="361" width="5" height="37" fill="#1b6420"/><rect x="512" y="362" width="3" height="35" fill="#4caf50"/>
<rect x="519" y="352" width="1" height="58" fill="#000"/>
<rect x="517" y="360" width="5" height="8" fill="#bf1c1c"/><rect x="518" y="361" width="3" height="6" fill="#e67272"/>
<rect x="525" y="333" width="1" height="47" fill="#000"/>
<rect x="523" y="358" width="5" height="9" fill="#1b6420"/><rect x="524" y="359" width="3" height="7" fill="#4caf50"/>
<rect x="530" y="334" width="1" height="46" fill="#000"/>
<rect x="528" y="352" width="5" height="6" fill="#1b6420"/><rect x="529" y="353" width="3" height="4" fill="#4caf50"/>
<rect x="536" y="348" width="1" height="15" fill="#000"/>
<rect x="534" y="353" width="5" height="5" fill="#bf1c1c"/><rect x="535" y="354" width="3" height="3" fill="#e67272"/>
<rect x="542" y="327" width="1" height="46" fill="#000"/>
<rect x="540" y="340" width="5" height="16" fill="#1b6420"/><rect x="541" y="341" width="3" height="14" fill="#4caf50"/>
<rect x="547" y="332" width="1" height="40" fill="#000"/>
<rect x="545" y="340" width="5" height="13" fill="#bf1c1c"/><rect x="546" y="341" width="3" height="11" fill="#e67272"/>
<rect x="553" y="328" width="1" height="34" fill="#000"/>
<rect x="551" y="339" width="5" height="14" fill="#1b6420"/><rect x="552" y="340" width="3" height="12" fill="#4caf50"/>
<rect x="559" y="325" width="1" height="32" fill="#000"/>
<rect x="557" y="332" width="5" height="8" fill="#1b6420"/><rect x="558" y="333" width="3" height="6" fill="#4caf50"/>
<rect x="564" y="331" width="1" height="37" fill="#000"/>
<rect x="562" y="333" width="5" height="7" fill="#bf1c1c"/><rect x="563" y="334" width="3" height="5" fill="#e67272"/>
<rect x="570" y="338" width="1" height="40" fill="#000"/>
<rect x="568" y="339" width="5" height="39" fill="#bf1c1c"/><rect x="569" y="340" width="3" height="37" fill="#e67272"/>
<rect x="576" y="372" width="1" height="20" fill="#000"/>
<rect x="574" y="376" width="5" height="10" fill="#bf1c1c"/><rect x="575" y="377" width="3" height="8" fill="#e67272"/>
<rect x="581" y="372" width="1" height="43" fill="#000"/>
<rect x="579" y="385" width="5" height="25" fill="#bf1c1c"/><rect x="580" y="386" width="3" height="23" fill="#e67272"/>
<rect x="587" y="406" width="1" height="21" fill="#000"/>
<rect x="585" y="407" width="5" height="5" fill="#1b6420"/><rect x="586" y="408" width="3" height="3" fill="#4caf50"/>
<rect x="593" y="406" width="1" height="17" fill="#000"/>
<rect x="591" y="407" width="5" height="11" fill="#bf1c1c"/><rect x="592" y="408" width="3" height="9" fill="#e67272"/>
<rect x="598" y="397" width="1" height="35" fill="#000"/>
<rect x="596" y="405" width="5" height="13" fill="#1b6420"/><rect x="597" y="406" width="3" height="11" fill="#4caf50"/>
<rect x="604" y="395" width="1" height="20" fill="#000"/>
<rect x="602" y="404" width="5" height="6" fill="#bf1c1c"/><rect x="603" y="405" width="3" height="4" fill="#e67272"/>
<rect x="610" y="335" width="1" height="88" fill="#000"/>
<rect x="608" y="341" width="5" height="68" fill="#1b6420"/><rect x="609" y="342" width="3" height="66" fill="#4caf50"/>
<rect x="615" y="335" width="1" height="32" fill="#000"/>
<rect x="613" y="341" width="5" height="15" fill="#bf1c1c"/><rect x="614" y="342" width="3" height="13" fill="#e67272"/>
<rect x="621" y="337" width="1" height="27" fill="#000"/>
<rect x="619" y="355" width="5" height="1" fill="#bf1c1c"/>
<rect x="627" y="350" width="1" height="51" fill="#000"/>
<rect x="625" y="356" width="5" height="43" fill="#bf1c1c"/><rect x="626" y="357" width="3" height="41" fill="#e67272"/>
<rect x="632" y="390" width="1" height="43" fill="#000"/>
<rect x="630" y="398" width="5" height="30" fill="#bf1c1c"/><rect x="631" y="399" width="3" height="28" fill="#e67272"/>
<rect x="638" y="421" width="1" height="23" fill="#000"/>
<rect x="636" y="428" width="5" height="12" fill="#bf1c1c"/><rect x="637" y="429" width="3" height="10" fill="#e67272"/>
<rect x="644" y="422" width="1" height="31" fill="#000"/>
<rect x="642" y="425" width="5" height="15" fill="#1b6420"/><rect x="643" y="426" width="3" height="13" fill="#4caf50"/>
<rect x="649" y="424" width="1" height="20" fill="#000"/>
<rect x="647" y="424" width="5" height="19" fill="#bf1c1c"/><rect x="648" y="425" width="3" height="17" fill="#e67272"/>
<rect x="655" y="439" width="1" height="28" fill="#000"/>
<rect x="653" y="442" width="5" height="18" fill="#bf1c1c"/><rect x="654" y="443" width="3" height="16" fill="#e67272"/>
<rect x="661" y="453" width="1" height="73" fill="#000"/>
<rect x="659" y="460" width="5" height="33" fill="#bf1c1c"/><rect x="660" y="461" width="3" height="31" fill="#e67272"/>
<rect x="666" y="476" width="1" height="26" fill="#000"/>
<rect x="664" y="490" width="5" height="2" fill="#1b6420"/>
<rect x="672" y="488" width="1" height="34" fill="#000"/>
<rect x="670" y="491" width="5" height="11" fill="#bf1c1c"/><rect x="671" y="492" width="3" height="9" fill="#e67272"/>
<rect x="678" y="494" width="1" height="25" fill="#000"/>
<rect x="676" y="501" width="5" height="12" fill="#bf1c1c"/><rect x="677" y="502" width="3" height="10" fill="#e67272"/>
<rect x="683" y="493" width="1" height="33" fill="#000"/>
<rect x="681" y="495" width="5" height="18" fill="#1b6420"/><rect x="682" y="496" width="3" height="16" fill="#4caf50"/>
<rect x="689" y="489" width="1" height="15" fill="#000"/>
<rect x="687" y="496" width="5" height="7" fill="#bf1c1c"/><rect x="688" y="497" width="3" height="5" fill="#e67272"/>
<rect x="695" y="501" width="1" height="31" fill="#000"/>
<rect x="693" y="502" width="5" height="28" fill="#bf1c1c"/><rect x="694" y="503" width="3" height="26" fill="#e67272"/>
<rect x="700" y="518" width="1" height="37" fill="#000"/>
<rect x="698" y="529" width="5" height="21" fill="#bf1c1c"/><rect x="699" y="530" width="3" height="19" fill="#e67272"/>
<rect x="706" y="535" width="1" height="16" fill="#000"/>
<rect x="704" y="538" width="5" height="12" fill="#1b6420"/><rect x="705" y="539" width="3" height="10" fill="#4caf50"/>
<rect x="712" y="518" width="1" height="30" fill="#000"/>
<rect x="710" y="518" width="5" height="22" fill="#1b6420"/><rect x="711" y="519" width="3" height="20" fill="#4caf50"/>
<rect x="717" y="516" width="1" height="15" fill="#000"/>
<rect x="715" y="518" width="5" height="10" fill="#bf1c1c"/><rect x="716" y="519" width="3" height="8" fill="#e67272"/>
<rect x="723" y="526" width="1" height="18" fill="#000"/>
<rect x="721" y="529" width="5" height="15" fill="#bf1c1c"/><rect x="722" y="530" width="3" height="13" fill="#e67272"/>
<rect x="729" y="538" width="1" height="12" fill="#000"/>
<rect x="727" y="542" width="5" height="5" fill="#bf1c1c"/><rect x="728" y="543" width="3" height="3" fill="#e67272"/>
<rect x="734" y="521" width="1" height="30" fill="#000"/>
<rect x="732" y="525" width="5" height="22" fill="#1b6420"/><rect x="733" y="526" width="3" height="20" fill="#4caf50"/>
<rect x="740" y="523" width="1" height="14" fill="#000"/>
<rect x="738" y="525" width="5" height="5" fill="#bf1c1c"/><rect x="739" y="526" width="3" height="3" fill="#e67272"/>
<rect x="746" y="496" width="1" height="44" fill="#000"/>
<rect x="744" y="526" width="5" height="6" fill="#1b6420"/><rect x="745" y="527" width="3" height="4" fill="#4caf50"/>
<rect x="751" y="522" width="1" height="20" fill="#000"/>
<rect x="749" y="527" width="5" height="11" fill="#bf1c1c"/><rect x="750" y="528" width="3" height="9" fill="#e67272"/>
<rect x="757" y="523" width="1" height="43" fill="#000"/>
<rect x="755" y="537" width="5" height="1" fill="#bf1c1c"/>
<rect x="763" y="500" width="1" height="51" fill="#000"/>
<rect x="761" y="502" width="5" height="36" fill="#1b6420"/><rect x="762" y="503" width="3" height="34" fill="#4caf50"/>
<rect x="768" y="463" width="1" height="43" fill="#000"/>
<rect x="766" y="479" width="5" height="24" fill="#1b6420"/><rect x="767" y="480" width="3" height="22" fill="#4caf50"/>
<rect x="774" y="421" width="1" height="62" fill="#000"/>
<rect x="772" y="438" width="5" height="42" fill="#1b6420"/><rect x="773" y="439" width="3" height="40" fill="#4caf50"/>
<rect x="780" y="407" width="1" height="42" fill="#000"/>
<rect x="778" y="408" width="5" height="32" fill="#1b6420"/><rect x="779" y="409" width="3" height="30" fill="#4caf50"/>
<rect x="785" y="402" width="1" height="29" fill="#000"/>
<rect x="783" y="410" width="5" height="1" fill="#1b6420"/>
<rect x="791" y="396" width="1" height="18" fill="#000"/>
<rect x="789" y="402" width="5" height="9" fill="#1b6420"/><rect x="790" y="403" width="3" height="7" fill="#4caf50"/>
<polygon points="60.4,211 64.6,218.6 56.2,218.6" fill="#26a69a"/>
<circle cx="853" cy="467.5" r="70" fill="#4caf50" fill-opacity="0.145" stroke="#9fb0c8" stroke-opacity="0.45" stroke-width="1"/>
<g stroke="#388e3c" stroke-width="2.8" stroke-linecap="round" fill="none"><line x1="864.5" y1="494" x2="1024.3" y2="257.8"/><polyline points="998.6,262.5 1024.3,257.5 1028,281.5"/></g>
<path d="M355.3,81.4 H648.8 Q656.8,81.4 656.8,89.4 V128.4 Q656.8,136.4 648.8,136.4 H511.4 L502,237 L492.5,136.4 H355.3 Q347.3,136.4 347.3,128.4 V89.4 Q347.3,81.4 355.3,81.4 Z" fill="rgb(90,200,190)" fill-opacity="0.33" stroke="#8e2d68" stroke-width="1.2" stroke-linejoin="round"/>
<text x="358.6" y="117.3" font-size="32" fill="#000" textLength="277" lengthAdjust="spacingAndGlyphs">descending channel</text>
<path d="M641.8,175.1 H793.0 Q802.5,175.1 802.5,184.6 V204.9 Q802.5,214.4 793.0,214.4 H726.2 L717.4,259.2 L708.3,214.4 H641.8 Q632.3,214.4 632.3,204.9 V184.6 Q632.3,175.1 641.8,175.1 Z" fill="rgb(90,200,190)" fill-opacity="0.33" stroke="#8e2d68" stroke-width="1.2" stroke-linejoin="round"/>
<text x="643.8" y="199" font-size="16" fill="#000" textLength="147" lengthAdjust="spacingAndGlyphs">main resistance area</text>
<path d="M396.0,566.3 H453.6 L462.4,506 L471.7,566.3 H528.9 Q538.4,566.3 538.4,575.8 V595.1 Q538.4,604.6 528.9,604.6 H396.0 Q386.5,604.6 386.5,595.1 V575.8 Q386.5,566.3 396.0,566.3 Z" fill="rgb(90,200,190)" fill-opacity="0.33" stroke="#8e2d68" stroke-width="1.2" stroke-linejoin="round"/>
<text x="397.8" y="589.8" font-size="16" fill="#000" textLength="129.4" lengthAdjust="spacingAndGlyphs">main support area</text>
<path d="M1054,243.2 L1040.6,258.2 L1064,243.2 Z" fill="#66bb6a" stroke="#2962ff" stroke-width="1.6" stroke-linejoin="round"/>
<circle cx="1039.8" cy="258.6" r="2.3" fill="#4d6cf0"/>
<rect x="1050.4" y="186.2" width="170.6" height="56" rx="4" fill="#6bbb70" stroke="#2962ff" stroke-width="2"/>
<text x="1065.3" y="229.9" font-size="43.5" font-weight="bold" fill="#000" textLength="144.6" lengthAdjust="spacingAndGlyphs">1.6700</text>
</g>
<g clip-path="url(#cpall)">
<rect x="975" y="626" width="119" height="121" fill="#fff"/>
<g clip-path="url(#whaleclip)">
<polygon points="976,713 983.3,709.4 989,704 994.2,701 997.9,702.9 1003,710 1008,717.5 1011.5,721 1015.5,718 1022.6,704.7 1029,696.5 1033.6,693.2 1037.5,697.5 1041,704.7 1046.4,709.7 1051,704.7 1058,692.5 1066.6,680 1069.3,680 1073.5,684 1077.6,687.7 1080.5,680 1084,662.6 1088,655 1095,650 1095,750 975,750" fill="#0f2f3a"/>
<polyline points="976,713 983.3,709.4 989,704 994.2,701" fill="none" stroke="#5fe01a" stroke-width="1.7" stroke-linejoin="round" stroke-linecap="round"/>
<polyline points="994.2,701 997.9,702.9 1003,710 1008,717.5 1011.5,721" fill="none" stroke="#d42020" stroke-width="1.7" stroke-linejoin="round" stroke-linecap="round"/>
<polyline points="1011.5,721 1015.5,718 1022.6,704.7 1029,696.5 1033.6,693.2" fill="none" stroke="#5fe01a" stroke-width="1.7" stroke-linejoin="round" stroke-linecap="round"/>
<polyline points="1033.6,693.2 1037.5,697.5 1041,704.7 1046.4,709.7" fill="none" stroke="#d42020" stroke-width="1.7" stroke-linejoin="round" stroke-linecap="round"/>
<polyline points="1046.4,709.7 1051,704.7 1058,692.5 1066.6,680 1069.3,680" fill="none" stroke="#5fe01a" stroke-width="1.7" stroke-linejoin="round" stroke-linecap="round"/>
<polyline points="1069.3,680 1073.5,684 1077.6,687.7" fill="none" stroke="#d42020" stroke-width="1.7" stroke-linejoin="round" stroke-linecap="round"/>
<polyline points="1077.6,687.7 1080.5,680 1084,662.6 1088,655 1095,650" fill="none" stroke="#5fe01a" stroke-width="1.7" stroke-linejoin="round" stroke-linecap="round"/>
</g>
<circle cx="1034.2" cy="686.8" r="57" fill="none" stroke="#f2a51e" stroke-width="1.4"/>
<path d="M1048.6,631.6 A57,57 0 0 1 1079,652" fill="none" stroke="#fff" stroke-width="2.6"/>
<polygon points="983.2,668.1 991.5,661.2 1000.6,658.9 1002.5,656.6 1012.6,655.7 1009.3,659.4 1014.4,662.1 1022.6,662.6 1031.8,658.9 1041,653.4 1048.3,648.4 1053.8,642.9 1062,636 1068.4,640.1 1074.4,644.7 1071.2,652.5 1066.6,661.6 1062.9,665.3 1062.9,670.8 1061.1,678.1 1056.5,685.5 1051.5,688.2 1052.9,681.8 1054.7,674.5 1053.8,671.7 1047.4,675.4 1044.6,676.3 1041,681.8 1033.6,690 1026.3,692.3 1024.9,690 1030.9,684.5 1033.6,680 1026.3,680 1018,677.2 1009.8,671.7 1003.4,665.3 999.7,664.4 993.3,668.1 986.9,669.4" fill="#1c3844" stroke="#1c3844" stroke-width="0.6" stroke-linejoin="round"/>
<g stroke="#e6eef0" stroke-width="0.42" fill="none" opacity="0.8">
<path d="M1017.0,665.5 Q1036.0,664.5 1052.0,651.0"/>
<path d="M1019.2,667.4 Q1037.0,665.8 1051.4,653.2"/>
<path d="M1021.4,669.3 Q1038.0,667.1 1050.8,655.4"/>
<path d="M1023.6,671.2 Q1039.0,668.4 1050.2,657.6"/>
<path d="M1025.8,673.1 Q1040.0,669.7 1049.6,659.8"/>
<path d="M1028.0,675.0 Q1041.0,671.0 1049.0,662.0"/>
<path d="M1050.0,660.0 L1060.0,639.5"/>
<path d="M1052.0,660.3 L1061.7,640.6"/>
<path d="M1054.0,660.6 L1063.4,641.7"/>
<path d="M1056.0,660.9 L1065.1,642.8"/>
<path d="M1058.0,661.2 L1066.8,643.9"/>
<path d="M1060.0,661.5 L1068.5,645.0"/>
</g>
<rect x="1115" y="418" width="325" height="330" fill="#fff"/>
<g clip-path="url(#imgclip)">
<circle cx="1332.5" cy="533.3" r="103" fill="#03918f"/>
<polygon points="1286.1,485.9 1379.2,485.9 1405.5,530.7 1332.7,602 1259.9,530.7" fill="#fff"/>
<rect x="1302.7" y="503.8" width="59.8" height="10.5" fill="#03918f"/>
<rect x="1326.4" y="510" width="14.5" height="54.9" fill="#03918f"/>
<ellipse cx="1333" cy="532" rx="35.6" ry="9.2" fill="none" stroke="#03918f" stroke-width="2.6"/>
<circle cx="1234.5" cy="631.4" r="112" fill="#fff"/>
<circle cx="1234.5" cy="631.4" r="102.3" fill="url(#gold)"/>
<circle cx="1234.5" cy="630.8" r="65" fill="url(#gold2)" opacity="0.55"/>
<circle cx="1234.5" cy="630.8" r="54" fill="none" stroke="#efc65a" stroke-width="3" opacity="0.8"/>
<circle cx="1234.5" cy="630.8" r="44" fill="#e2b04a" opacity="0.55"/>
<path d="M1181.5,642 A54,54 0 0 0 1287.5,642" fill="none" stroke="#f6e34e" stroke-width="1.6"/>
<path d="M1210,614 Q1226,603 1246,600.2 Q1266,599.5 1274.2,609 Q1274,616 1269,620.5 Q1270,612 1262,609 Q1247,605 1230.6,608.9 Q1219,611 1210,614 Z" fill="#0c0a08"/>
<path d="M1194.8,645.4 Q1202,654.5 1214,657 Q1232,659 1246.5,650 Q1236,652 1226,650 Q1214,648 1206,645.6 Z" fill="#0c0a08"/>
<g font-style="italic" font-weight="bold">
<g fill="#111" stroke="#111" stroke-width="1.5" stroke-linejoin="round"><text x="1196.3" y="630" font-size="13.5" textLength="76" lengthAdjust="spacingAndGlyphs">SPX</text><text x="1182.3" y="641.8" font-size="13.5" textLength="101" lengthAdjust="spacingAndGlyphs">6900</text></g>
<g fill="#f4f4f4"><text x="1197" y="629.4" font-size="13.5" textLength="76" lengthAdjust="spacingAndGlyphs">SPX</text><text x="1183" y="641.2" font-size="13.5" textLength="101" lengthAdjust="spacingAndGlyphs">6900</text></g>
</g>
<polygon points="1176,436.7 1189.5,458.5 1180.455,454.5 1177,523.8 1175,523.8 1171.545,454.5 1162.5,458.5" fill="#9ad29c" stroke="#72b878" stroke-width="1" stroke-linejoin="round"/>
<polygon points="1380,645.8 1393.5,668 1384.455,664 1381,733 1379,733 1375.545,664 1366.5,668" fill="#9ad29c" stroke="#72b878" stroke-width="1" stroke-linejoin="round"/>
</g>
</g>
<rect x="1469" y="30" width="1" height="774.7" fill="#b7c8de"/>
<rect x="10.7" y="773" width="1517.8999999999999" height="1" fill="#b7c8de"/>
<rect x="1474" y="35.4" width="51" height="27.2" rx="4.5" fill="#fff"/>
<text x="1483.5" y="53.6" font-size="12.5" fill="#131722" textLength="32.5" lengthAdjust="spacingAndGlyphs">USDT</text>
<text x="1478.9" y="770.9" font-size="14" fill="#131722" textLength="41.8" lengthAdjust="spacingAndGlyphs">0.4000</text>
<text x="1478.9" y="730.9" font-size="14" fill="#131722" textLength="41.8" lengthAdjust="spacingAndGlyphs">0.5000</text>
<text x="1478.9" y="691.9" font-size="14" fill="#131722" textLength="41.8" lengthAdjust="spacingAndGlyphs">0.6000</text>
<text x="1478.9" y="651.9" font-size="14" fill="#131722" textLength="41.8" lengthAdjust="spacingAndGlyphs">0.7000</text>
<text x="1478.9" y="611.9" font-size="14" fill="#131722" textLength="41.8" lengthAdjust="spacingAndGlyphs">0.8000</text>
<text x="1478.9" y="571.9" font-size="14" fill="#131722" textLength="41.8" lengthAdjust="spacingAndGlyphs">0.9000</text>
<text x="1478.9" y="531.9" font-size="14" fill="#131722" textLength="41.8" lengthAdjust="spacingAndGlyphs">1.0000</text>
<text x="1478.9" y="491.9" font-size="14" fill="#131722" textLength="41.8" lengthAdjust="spacingAndGlyphs">1.1000</text>
<text x="1478.9" y="451.9" font-size="14" fill="#131722" textLength="41.8" lengthAdjust="spacingAndGlyphs">1.2000</text>
<text x="1478.9" y="411.9" font-size="14" fill="#131722" textLength="41.8" lengthAdjust="spacingAndGlyphs">1.3000</text>
<text x="1478.9" y="371.9" font-size="14" fill="#131722" textLength="41.8" lengthAdjust="spacingAndGlyphs">1.4000</text>
<text x="1478.9" y="331.9" font-size="14" fill="#131722" textLength="41.8" lengthAdjust="spacingAndGlyphs">1.5000</text>
<text x="1478.9" y="291.9" font-size="14" fill="#131722" textLength="41.8" lengthAdjust="spacingAndGlyphs">1.6000</text>
<text x="1478.9" y="251.9" font-size="14" fill="#131722" textLength="41.8" lengthAdjust="spacingAndGlyphs">1.7000</text>
<text x="1478.9" y="211.9" font-size="14" fill="#131722" textLength="41.8" lengthAdjust="spacingAndGlyphs">1.8000</text>
<text x="1478.9" y="171.9" font-size="14" fill="#131722" textLength="41.8" lengthAdjust="spacingAndGlyphs">1.9000</text>
<text x="1478.9" y="131.9" font-size="14" fill="#131722" textLength="41.8" lengthAdjust="spacingAndGlyphs">2.0000</text>
<text x="1478.9" y="91.9" font-size="14" fill="#131722" textLength="41.8" lengthAdjust="spacingAndGlyphs">2.1000</text>
<path d="M1470,393 H1523.8 Q1525.8,393 1525.8,395 V409.9 Q1525.8,411.9 1523.8,411.9 H1470 Z" fill="#4caf50"/>
<text x="1480.4" y="407.6" font-size="14" fill="#fff" stroke="#fff" stroke-width="0.3" textLength="41.3" lengthAdjust="spacingAndGlyphs">1.3125</text>
<text x="60.3" y="794" font-size="14.2" font-weight="bold" fill="#131722" textLength="24" lengthAdjust="spacingAndGlyphs">Aug</text>
<text x="411.5" y="794" font-size="14.2" font-weight="bold" fill="#131722" textLength="23.2" lengthAdjust="spacingAndGlyphs">Sep</text>
<text x="751.8" y="794" font-size="14.2" font-weight="bold" fill="#131722" textLength="23" lengthAdjust="spacingAndGlyphs">Oct</text>
<text x="1101.7" y="794" font-size="14.2" font-weight="bold" fill="#131722" textLength="25" lengthAdjust="spacingAndGlyphs">Nov</text>
<text x="1442.0" y="794" font-size="14.2" font-weight="bold" fill="#131722" textLength="24" lengthAdjust="spacingAndGlyphs">Dec</text>
<g font-size="14">
<text x="19.6" y="51.7" fill="#131722" textLength="176.8" lengthAdjust="spacingAndGlyphs">SPX6900 / USDT · 12h · MEXC</text>
<text x="205.2" y="51.7" fill="#131722" textLength="9.5" lengthAdjust="spacingAndGlyphs">O</text>
<text x="215" y="51.7" fill="#23702c" textLength="38.6" lengthAdjust="spacingAndGlyphs">1.2924</text>
<text x="262.9" y="51.7" fill="#131722" textLength="9" lengthAdjust="spacingAndGlyphs">H</text>
<text x="272.3" y="51.7" fill="#23702c" textLength="39.2" lengthAdjust="spacingAndGlyphs">1.3270</text>
<text x="320.2" y="51.7" fill="#131722" textLength="6.8" lengthAdjust="spacingAndGlyphs">L</text>
<text x="327.6" y="51.7" fill="#23702c" textLength="38.9" lengthAdjust="spacingAndGlyphs">1.2828</text>
<text x="375.4" y="51.7" fill="#131722" textLength="8.3" lengthAdjust="spacingAndGlyphs">C</text>
<text x="384.3" y="51.7" fill="#23702c" textLength="38.7" lengthAdjust="spacingAndGlyphs">1.3125</text>
<text x="432.4" y="51.7" fill="#23702c" textLength="101.2" lengthAdjust="spacingAndGlyphs">+0.0198 (+1.53%)</text>
<text x="20" y="70.7" fill="#131722" textLength="53" lengthAdjust="spacingAndGlyphs">Vol · SPX</text>
<text x="81.5" y="70.7" fill="#26a69a" textLength="43" lengthAdjust="spacingAndGlyphs">56.12 K</text>
</g>
<g fill="#131313">
<path d="M13.1,829.7 H26.9 V846.9 H20 V836.9 H13.1 Z"/>
<circle cx="31.7" cy="832.6" r="2.9"/>
<path d="M37.9,829.7 H46.7 L41.4,846.9 H32.6 Z"/>
<text x="55" y="846.9" font-size="23.6" font-weight="bold" stroke="#131313" stroke-width="0.5" textLength="135.7" lengthAdjust="spacingAndGlyphs">TradingView</text>
</g>
</svg>
</body></html>
